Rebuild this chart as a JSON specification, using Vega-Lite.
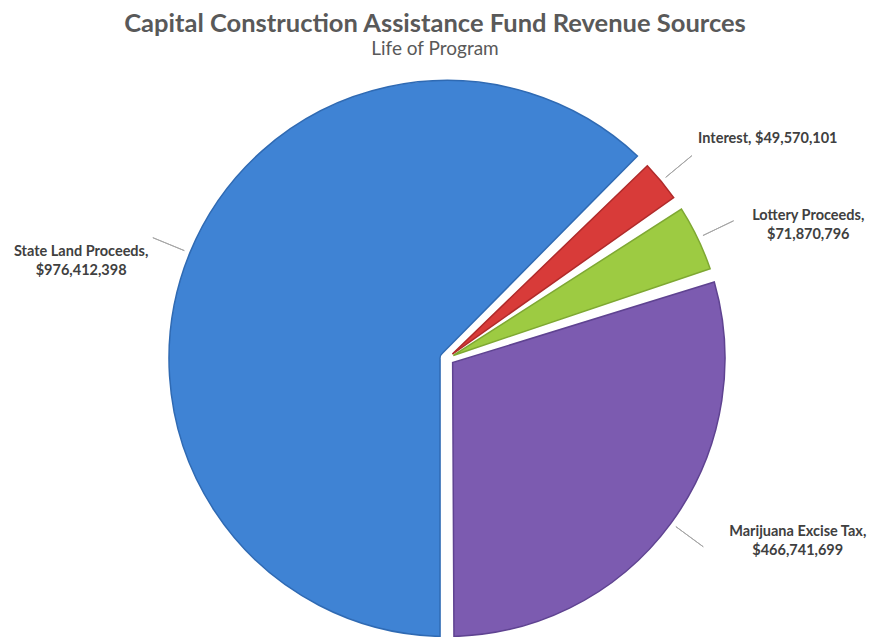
{
  "$schema": "https://vega.github.io/schema/vega-lite/v6.json",
  "width": 873,
  "height": 637,
  "autosize": {"type": "fit", "contains": "padding"},
  "padding": {"left": 21, "right": 0, "top": 14, "bottom": 0},
  "background": "white",
  "title": {
    "text": "Capital Construction Assistance Fund Revenue Sources",
    "subtitle": "Life of Program",
    "anchor": "middle",
    "frame": "group",
    "font": "Lato",
    "fontSize": 25.5,
    "fontWeight": "bold",
    "color": "#595959",
    "subtitleFont": "Lato",
    "subtitleFontSize": 19,
    "subtitleColor": "#595959",
    "subtitlePadding": 2,
    "offset": 19,
    "dx": -12
  },
  "data": {
    "values": [
      {"source": "State Land Proceeds", "value": 976412398, "label": "State Land Proceeds,\n$976,412,398"},
      {"source": "Interest", "value": 49570101, "label": "Interest, $49,570,101"},
      {"source": "Lottery Proceeds", "value": 71870796, "label": "Lottery Proceeds,\n$71,870,796"},
      {"source": "Marijuana Excise Tax", "value": 466741699, "label": "Marijuana Excise Tax,\n$466,741,699"}
    ]
  },
  "layer": [
    {
      "mark": {"type": "arc", "outerRadius": 278, "innerRadius": 7, "padAngle": 0.05, "strokeWidth": 1.5},
      "encoding": {
        "theta": {"field": "value", "type": "quantitative", "stack": true, "scale": {"domain": [0, 1564594994], "range": [0.7795, 7.0627]}},
        "order": {"field": "source", "type": "ordinal", "sort": "ascending"},
        "color": {
          "field": "source",
          "type": "nominal",
          "scale": {
            "domain": ["State Land Proceeds", "Interest", "Lottery Proceeds", "Marijuana Excise Tax"],
            "range": ["#3f83d4", "#d83b39", "#9dcb42", "#7c5bb0"]
          },
          "legend": null
        },
        "stroke": {
          "field": "source",
          "type": "nominal",
          "scale": {
            "domain": ["State Land Proceeds", "Interest", "Lottery Proceeds", "Marijuana Excise Tax"],
            "range": ["#2f6ab3", "#b02a2a", "#7ea832", "#5f4391"]
          },
          "legend": null
        }
      }
    },
    {
      "transform": [
        {"stack": "value", "groupby": [], "sort": [{"field": "source", "order": "ascending"}], "as": ["v0", "v1"]},
        {"fold": ["v0", "v1"], "as": ["k", "v"]},
        {"aggregate": [{"op": "mean", "field": "v", "as": "mid"}], "groupby": ["source", "label"]}
      ],
      "layer": [
        {
          "mark": {"type": "arc", "innerRadius": 284, "outerRadius": 318, "filled": false, "stroke": "#a6a6a6", "strokeWidth": 1},
          "encoding": {
            "theta": {"field": "mid", "type": "quantitative", "stack": null, "scale": {"domain": [0, 1564594994], "range": [0.7795, 7.0627]}},
            "theta2": {"field": "mid"}
          }
        },
        {
          "transform": [{"filter": "datum.source === 'Interest'"}],
          "mark": {"type": "text", "radius": 326, "dy": -12, "align": "left", "baseline": "middle", "font": "Lato", "fontSize": 14.5, "fontWeight": "bold", "color": "#404040", "lineBreak": "\n", "lineHeight": 19},
          "encoding": {
            "theta": {"field": "mid", "type": "quantitative", "stack": null, "scale": {"domain": [0, 1564594994], "range": [0.7795, 7.0627]}},
            "text": {"field": "label", "type": "nominal"}
          }
        },
        {
          "transform": [{"filter": "datum.source === 'Lottery Proceeds'"}],
          "mark": {"type": "text", "radius": 332, "dx": 62, "dy": 1, "align": "center", "baseline": "middle", "font": "Lato", "fontSize": 14.5, "fontWeight": "bold", "color": "#404040", "lineBreak": "\n", "lineHeight": 19},
          "encoding": {
            "theta": {"field": "mid", "type": "quantitative", "stack": null, "scale": {"domain": [0, 1564594994], "range": [0.7795, 7.0627]}},
            "text": {"field": "label", "type": "nominal"}
          }
        },
        {
          "transform": [{"filter": "datum.source === 'Marijuana Excise Tax'"}],
          "mark": {"type": "text", "radius": 326, "dx": 88, "dy": -20, "align": "center", "baseline": "middle", "font": "Lato", "fontSize": 14.5, "fontWeight": "bold", "color": "#404040", "lineBreak": "\n", "lineHeight": 19},
          "encoding": {
            "theta": {"field": "mid", "type": "quantitative", "stack": null, "scale": {"domain": [0, 1564594994], "range": [0.7795, 7.0627]}},
            "text": {"field": "label", "type": "nominal"}
          }
        },
        {
          "transform": [{"filter": "datum.source === 'State Land Proceeds'"}],
          "mark": {"type": "text", "radius": 322, "dx": -68, "dy": 16, "align": "center", "baseline": "middle", "font": "Lato", "fontSize": 14.5, "fontWeight": "bold", "color": "#404040", "lineBreak": "\n", "lineHeight": 19},
          "encoding": {
            "theta": {"field": "mid", "type": "quantitative", "stack": null, "scale": {"domain": [0, 1564594994], "range": [0.7795, 7.0627]}},
            "text": {"field": "label", "type": "nominal"}
          }
        }
      ]
    }
  ],
  "config": {"view": {"stroke": null}}
}
